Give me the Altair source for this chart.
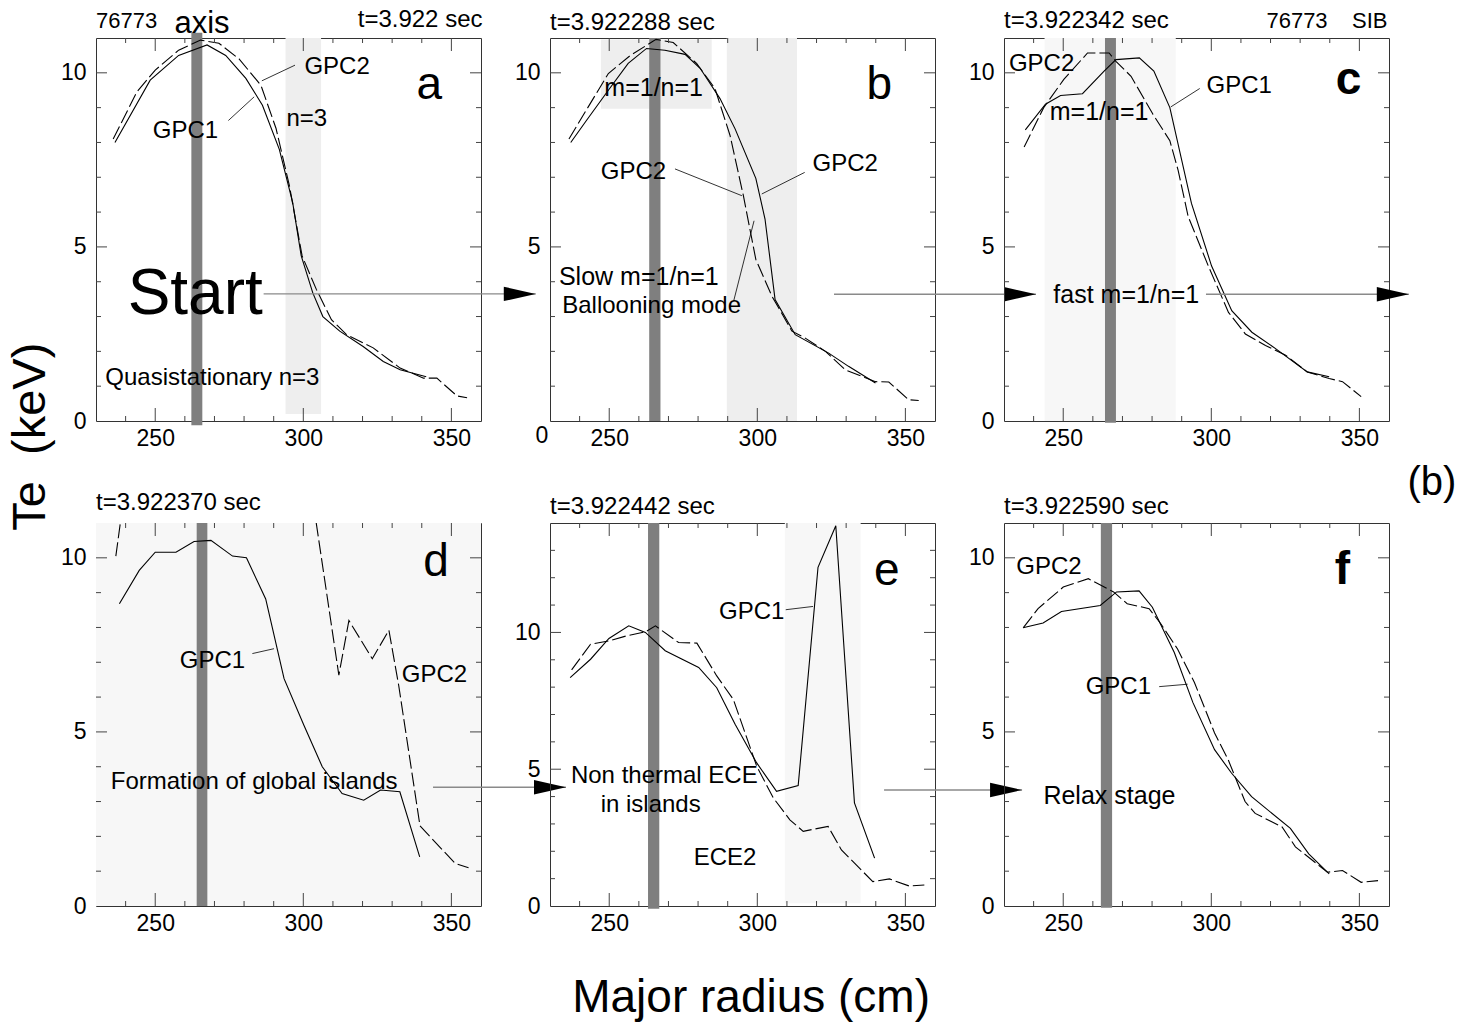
import altair as alt
import pandas as pd

FONT = "Liberation Sans"
W, H = 385, 383
XDOM = [230, 360]
X_MAJOR = [250, 300, 350]
X_MINOR = [240, 260, 270, 280, 290, 310, 320, 330, 340]

# ---------------- panel a ----------------
A_GPC1_R = [236.4, 248.3, 257.9, 267.5, 273.8, 280.6, 286.2, 291.9, 296.4, 299.3, 303.2, 306.6, 312.3, 320.2, 327.0, 332.7, 341.5]
A_GPC1_TE = [8.0, 9.79, 10.5, 10.8, 10.5, 9.84, 9.07, 7.8, 6.28, 4.74, 3.68, 3.0, 2.58, 2.14, 1.71, 1.47, 1.27]
A_GPC2_R = [235.8, 243.8, 250.0, 257.9, 265.3, 271.5, 278.3, 285.7, 290.8, 295.3, 299.6, 304.4, 309.5, 314.6, 323.6, 332.7, 340.6, 345.1, 351.9, 355.3]
A_GPC2_TE = [8.1, 9.45, 10.08, 10.65, 10.94, 10.85, 10.4, 9.64, 8.4, 6.76, 4.74, 3.78, 2.91, 2.48, 2.1, 1.52, 1.23, 1.23, 0.72, 0.67]
A_BAND_X0, A_BAND_X1, A_BAND_Y0, A_BAND_Y1 = [294.0], [306.0], [0.2], [11.0]
A_AXIS = [262.2, 265.9, -0.12, 11.15]
A_TEXT = ["76773", "axis", "t=3.922 sec", "GPC2", "GPC1", "n=3", "Start", "Quasistationary n=3", "a", "Te\u00a0\u00a0(keV)"]
A_TEXT_X = [230, 265.8, 360.5, 311.4, 260.2, 301.2, 263.5, 269.3, 342.5, 208.1]
A_TEXT_Y = [11.5, 11.15, 11.52, 10.16, 8.32, 8.68, 3.63, 1.24, 9.26, -0.45]
A_TEXT_STYLE = ["tl22", "axis", "tr", "lab", "lab", "lab", "start", "lab", "letter", "ylab"]
A_LEADERS = [(286.0, 9.77, 297.2, 10.22), (274.7, 8.63, 283.4, 9.31)]
A_ARROWS = [(286.6, 378.5, 3.65)]

# ---------------- panel b ----------------
B_GPC1_R = [237.0, 242.3, 249.7, 256.4, 262.6, 268.8, 275.6, 280.7, 287.4, 292.5, 299.5, 302.6, 306.0, 312.8, 324.1, 330.8, 339.9]
B_GPC1_TE = [8.0, 8.63, 9.5, 10.27, 10.7, 10.65, 10.53, 10.13, 9.26, 8.39, 6.97, 5.8, 3.49, 2.48, 1.95, 1.57, 1.09]
B_GPC2_R = [236.4, 241.2, 249.7, 257.0, 265.8, 271.6, 279.5, 285.7, 290.8, 295.3, 299.5, 304.9, 311.7, 316.2, 323.0, 329.7, 339.9, 344.4, 351.1, 354.5]
B_GPC2_TE = [8.1, 8.78, 9.98, 10.49, 10.96, 10.87, 10.27, 9.55, 8.2, 6.47, 4.64, 3.59, 2.58, 2.38, 2.0, 1.47, 1.13, 1.12, 0.61, 0.59]
B_BAND_X0, B_BAND_X1, B_BAND_Y0, B_BAND_Y1 = [247.2, 289.7], [284.6, 313.4], [8.97, 0.0], [10.96, 11.0]
B_AXIS = [263.5, 267.3, 0.0, 11.0]
B_TEXT = ["t=3.922288 sec", "m=1/n=1", "b", "GPC2", "GPC2", "Slow m=1/n=1", "Ballooning mode", "0"]
B_TEXT_X = [230, 265.0, 341.2, 258.2, 329.7, 260.0, 264.3, 227.3]
B_TEXT_Y = [11.44, 9.57, 9.24, 7.14, 7.37, 4.15, 3.3, -0.44]
B_TEXT_STYLE = ["tl", "lab25", "letter", "lab", "lab", "lab25", "lab", "tick"]
B_LEADERS = [(272.2, 7.24, 294.8, 6.47), (316.0, 7.14, 301.5, 6.52), (292.0, 3.44, 298.9, 5.75)]
B_ARROWS = [(325.9, 394.1, 3.64)]

# ---------------- panel c ----------------
C_GPC1_R = [237.2, 244.0, 249.1, 256.5, 263.8, 267.8, 275.7, 280.6, 286.0, 293.3, 300.1, 306.9, 313.7, 321.7, 332.4, 339.8]
C_GPC1_TE = [8.36, 9.1, 9.35, 9.4, 10.05, 10.38, 10.43, 10.05, 9.0, 6.25, 4.45, 3.17, 2.55, 2.08, 1.41, 1.27]
C_GPC2_R = [236.8, 243.4, 250.2, 258.2, 265.5, 267.8, 272.9, 280.3, 286.0, 288.8, 292.2, 299.0, 305.8, 311.5, 318.3, 325.1, 332.4, 339.8, 344.3, 350.6]
C_GPC2_TE = [7.87, 9.0, 9.81, 10.57, 10.57, 10.33, 9.9, 8.81, 8.05, 7.2, 5.87, 4.45, 3.12, 2.5, 2.17, 1.89, 1.41, 1.22, 1.13, 0.70]
C_BAND_X0, C_BAND_X1, C_BAND_Y0, C_BAND_Y1 = [243.7], [288.0], [0.0], [11.0]
C_AXIS = [264.1, 267.8, -0.05, 11.0]
C_TEXT = ["t=3.922342 sec", "76773\u00a0\u00a0\u00a0\u00a0SIB", "GPC2", "m=1/n=1", "GPC1", "c", "fast m=1/n=1", "(b)"]
C_TEXT_X = [230, 359.5, 242.7, 262.1, 309.4, 346.3, 271.3, 374.5]
C_TEXT_Y = [11.49, 11.49, 10.24, 8.87, 9.62, 9.40, 3.62, -1.79]
C_TEXT_STYLE = ["tl", "tr22", "lab", "lab25", "lab", "letterb", "lab25", "bmark"]
C_LEADERS = [(296.1, 9.55, 286.3, 9.02)]
C_ARROWS = [(298.2, 366.7, 3.64)]

# ---------------- panel d ----------------
D_GPC1_R = [237.9, 244.6, 250.0, 257.0, 263.1, 268.8, 276.1, 280.8, 287.3, 293.5, 300.2, 306.4, 313.1, 320.4, 326.1, 332.6, 339.3]
D_GPC1_TE = [8.68, 9.64, 10.16, 10.16, 10.47, 10.5, 10.05, 10.0, 8.82, 6.53, 5.19, 4.0, 3.23, 3.04, 3.33, 3.28, 1.41]
D_GPC2_R = [236.7, 243.0, 300.0, 312.0, 315.4, 323.3, 328.9, 332.2, 339.4, 351.3, 355.8]
D_GPC2_TE = [10.05, 14.0, 13.5, 6.63, 8.2, 7.1, 7.92, 6.34, 2.3, 1.22, 1.1]
D_BAND_X0, D_BAND_X1, D_BAND_Y0, D_BAND_Y1 = [230.0], [360.0], [0.0], [11.0]
D_AXIS = [264.0, 267.6, 0.0, 11.0]
D_TEXT = ["t=3.922370 sec", "d", "GPC1", "GPC2", "Formation of global islands"]
D_TEXT_X = [230, 344.8, 269.3, 344.3, 283.4]
D_TEXT_Y = [11.58, 9.47, 7.03, 6.64, 3.55]
D_TEXT_STYLE = ["tl", "letter", "lab", "lab", "lab"]
D_LEADERS = [(282.8, 7.25, 290.1, 7.39)]
D_ARROWS = [(343.8, 388.7, 3.41)]

# ---------------- panel e ----------------
E_GPC1_R = [236.8, 243.7, 249.9, 256.6, 262.2, 268.9, 280.2, 286.3, 292.5, 299.8, 306.5, 313.8, 320.5, 326.5, 332.8, 339.6]
E_GPC1_TE = [8.35, 9.02, 9.78, 10.24, 10.0, 9.33, 8.72, 7.98, 6.64, 5.23, 4.19, 4.4, 12.38, 13.9, 3.77, 1.75]
E_GPC2_R = [237.3, 243.7, 249.9, 256.0, 262.2, 265.6, 273.4, 279.6, 286.3, 291.9, 299.8, 305.4, 311.0, 315.5, 323.9, 328.4, 339.0, 344.6, 351.3, 356.4]
E_GPC2_TE = [8.63, 9.57, 9.69, 9.88, 10.02, 10.24, 9.63, 9.61, 8.41, 7.55, 5.11, 3.95, 3.15, 2.73, 2.91, 2.05, 0.89, 0.99, 0.73, 0.77]
E_BAND_X0, E_BAND_X1, E_BAND_Y0, E_BAND_Y1 = [309.3], [334.9], [0.1], [14.0]
E_AXIS = [263.1, 266.9, -0.1, 14.0]
E_TEXT = ["t=3.922442 sec", "e", "GPC1", "Non thermal ECE", "in islands", "ECE2", "Major radius (cm)"]
E_TEXT_X = [230, 343.7, 298.1, 268.6, 264.0, 289.1, 297.9]
E_TEXT_Y = [14.58, 11.74, 10.76, 4.77, 3.70, 1.74, -3.36]
E_TEXT_STYLE = ["tl", "letter", "lab", "lab", "lab", "lab", "xlab"]
E_LEADERS = [(309.6, 10.83, 318.8, 10.95)]
E_ARROWS = [(342.8, 389.4, 4.24)]

# ---------------- panel f ----------------
F_GPC1_R = [236.4, 243.2, 249.4, 262.5, 268.0, 275.6, 280.1, 287.5, 293.8, 301.1, 306.8, 313.6, 326.7, 332.9, 339.8]
F_GPC1_TE = [7.99, 8.13, 8.46, 8.63, 9.02, 9.05, 8.58, 7.28, 5.84, 4.49, 3.82, 3.14, 2.23, 1.5, 0.92]
F_GPC2_R = [236.6, 241.5, 250.0, 258.5, 267.0, 271.6, 279.0, 283.0, 288.6, 294.3, 301.1, 305.7, 311.4, 314.8, 323.9, 328.4, 339.2, 344.3, 350.6, 356.3]
F_GPC2_TE = [8.0, 8.54, 9.16, 9.4, 9.02, 8.68, 8.54, 8.1, 7.38, 6.42, 4.97, 4.2, 3.0, 2.66, 2.27, 1.7, 0.97, 1.02, 0.68, 0.73]
F_AXIS = [262.7, 266.5, -0.05, 11.0]
F_TEXT = ["t=3.922590 sec", "GPC2", "GPC1", "f", "Relax stage"]
F_TEXT_X = [230, 245.2, 268.6, 344.3, 265.6]
F_TEXT_Y = [11.46, 9.73, 6.28, 9.26, 3.17]
F_TEXT_STYLE = ["tl", "lab", "lab", "letterb", "lab25"]
F_LEADERS = [(282.4, 6.3, 292.0, 6.37)]

LIGHT = {"a": "#eeeeee", "b": "#eeeeee", "c": "#f7f7f7", "d": "#f7f7f7", "e": "#f7f7f7"}

STYLES = {
    "lab": dict(fontSize=24),
    "lab25": dict(fontSize=25),
    "start": dict(fontSize=64),
    "letter": dict(fontSize=46, baseline="alphabetic"),
    "letterb": dict(fontSize=46, baseline="alphabetic", fontWeight="bold"),
    "tl": dict(fontSize=24, align="left"),
    "tl22": dict(fontSize=22, align="left"),
    "tr": dict(fontSize=24, align="right"),
    "tr22": dict(fontSize=22, align="right"),
    "axis": dict(fontSize=31, baseline="alphabetic"),
    "ylab": dict(fontSize=47, angle=270),
    "xlab": dict(fontSize=46),
    "bmark": dict(fontSize=40),
    "tick": dict(fontSize=23),
}

ARROW_PATH = "M-2,-0.45L0,0L-2,0.45Z"


def build(ydom, yvals, g1, g2, bands, band_color, axis_band, texts, leaders, arrows):
    xs = alt.Scale(domain=XDOM, nice=False, zero=False)
    ys = alt.Scale(domain=ydom, nice=False, zero=False)
    xa = alt.Axis(values=X_MAJOR, ticks=False, domain=False, grid=False, title=None,
                  labelPadding=6, labelFontSize=23, labelFont=FONT, labelColor="black")
    ya = alt.Axis(values=yvals, ticks=False, domain=False, grid=False, title=None,
                  labelPadding=10, labelFontSize=23, labelFont=FONT, labelColor="black")

    def X(f):
        return alt.X(f, type="quantitative", scale=xs, axis=xa)

    def Y(f):
        return alt.Y(f, type="quantitative", scale=ys, axis=ya)

    layers = []
    if bands is not None:
        bdf = pd.DataFrame({"x0": bands[0], "x1": bands[1], "y0": bands[2], "y1": bands[3]})
        layers.append(alt.Chart(bdf).mark_rect(color=band_color).encode(
            x=X("x0"), x2="x1", y=Y("y0"), y2="y1"))
    adf = pd.DataFrame({"x0": [axis_band[0]], "x1": [axis_band[1]], "y0": [axis_band[2]], "y1": [axis_band[3]]})
    layers.append(alt.Chart(adf).mark_rect(color="#7f7f7f").encode(
        x=X("x0"), x2="x1", y=Y("y0"), y2="y1"))

    d1 = pd.DataFrame({"r": g1[0], "te": g1[1]})
    d2 = pd.DataFrame({"r": g2[0], "te": g2[1]})
    layers.append(alt.Chart(d1).mark_line(color="black", strokeWidth=1.1, clip=True).encode(x=X("r"), y=Y("te")))
    layers.append(alt.Chart(d2).mark_line(color="black", strokeWidth=1.1, strokeDash=[14, 4], clip=True).encode(x=X("r"), y=Y("te")))

    # inward ticks
    tc = "#444444"
    xmaj = pd.DataFrame({"v": X_MAJOR})
    xmin = pd.DataFrame({"v": X_MINOR})
    for df, ln in ((xmaj, 13), (xmin, 5)):
        layers.append(alt.Chart(df).mark_rule(color=tc).encode(x=X("v"), y=alt.value(H), y2=alt.value(H - ln)))
        layers.append(alt.Chart(df).mark_rule(color=tc).encode(x=X("v"), y=alt.value(0), y2=alt.value(ln)))
    ymaj = pd.DataFrame({"v": [v for v in range(5, int(ydom[1]), 5)]})
    ymin = pd.DataFrame({"v": [v for v in range(1, int(ydom[1])) if v % 5]})
    for df, ln in ((ymaj, 11), (ymin, 5)):
        layers.append(alt.Chart(df).mark_rule(color=tc).encode(y=Y("v"), x=alt.value(0), x2=alt.value(ln)))
        layers.append(alt.Chart(df).mark_rule(color=tc).encode(y=Y("v"), x=alt.value(W), x2=alt.value(W - ln)))

    if leaders:
        ldf = pd.DataFrame(leaders, columns=["x0", "y0", "x1", "y1"])
        layers.append(alt.Chart(ldf).mark_rule(color="black", strokeWidth=0.8).encode(
            x=X("x0"), y=Y("y0"), x2="x1", y2="y1"))

    for (x0, x1, y) in arrows:
        ar = pd.DataFrame({"x0": [x0], "x1": [x1], "y": [y]})
        layers.append(alt.Chart(ar).mark_rule(color="#8a8a8a", strokeWidth=1.3).encode(
            x=X("x0"), x2="x1", y=Y("y")))
        layers.append(alt.Chart(ar).mark_point(shape=ARROW_PATH, filled=True, size=1024,
                                               color="black", opacity=1).encode(x=X("x1"), y=Y("y")))

    for s, x, y, st in zip(*texts):
        kw = dict(font=FONT, color="black", align="center", baseline="middle")
        kw.update(STYLES[st])
        tdf = pd.DataFrame({"x": [x], "y": [y], "t": [s]})
        layers.append(alt.Chart(tdf).mark_text(**kw).encode(x=X("x"), y=Y("y"), text="t:N"))

    return alt.layer(*layers).properties(width=W, height=H)


pa = build([0, 11], [0, 5, 10], (A_GPC1_R, A_GPC1_TE), (A_GPC2_R, A_GPC2_TE),
           (A_BAND_X0, A_BAND_X1, A_BAND_Y0, A_BAND_Y1), LIGHT["a"], A_AXIS,
           (A_TEXT, A_TEXT_X, A_TEXT_Y, A_TEXT_STYLE), A_LEADERS, A_ARROWS)
pb = build([0, 11], [5, 10], (B_GPC1_R, B_GPC1_TE), (B_GPC2_R, B_GPC2_TE),
           (B_BAND_X0, B_BAND_X1, B_BAND_Y0, B_BAND_Y1), LIGHT["b"], B_AXIS,
           (B_TEXT, B_TEXT_X, B_TEXT_Y, B_TEXT_STYLE), B_LEADERS, B_ARROWS)
pc = build([0, 11], [0, 5, 10], (C_GPC1_R, C_GPC1_TE), (C_GPC2_R, C_GPC2_TE),
           (C_BAND_X0, C_BAND_X1, C_BAND_Y0, C_BAND_Y1), LIGHT["c"], C_AXIS,
           (C_TEXT, C_TEXT_X, C_TEXT_Y, C_TEXT_STYLE), C_LEADERS, C_ARROWS)
pd_ = build([0, 11], [0, 5, 10], (D_GPC1_R, D_GPC1_TE), (D_GPC2_R, D_GPC2_TE),
            (D_BAND_X0, D_BAND_X1, D_BAND_Y0, D_BAND_Y1), LIGHT["d"], D_AXIS,
            (D_TEXT, D_TEXT_X, D_TEXT_Y, D_TEXT_STYLE), D_LEADERS, D_ARROWS)
pe = build([0, 14], [0, 5, 10], (E_GPC1_R, E_GPC1_TE), (E_GPC2_R, E_GPC2_TE),
           (E_BAND_X0, E_BAND_X1, E_BAND_Y0, E_BAND_Y1), LIGHT["e"], E_AXIS,
           (E_TEXT, E_TEXT_X, E_TEXT_Y, E_TEXT_STYLE), E_LEADERS, E_ARROWS)
pf = build([0, 11], [0, 5, 10], (F_GPC1_R, F_GPC1_TE), (F_GPC2_R, F_GPC2_TE),
           None, None, F_AXIS,
           (F_TEXT, F_TEXT_X, F_TEXT_Y, F_TEXT_STYLE), F_LEADERS, [])

chart = alt.concat(pa, pb, pc, pd_, pe, pf, columns=3,
                   spacing={"row": 102, "column": 69}, bounds="flush").properties(
    padding={"left": 6, "top": 7, "right": 5, "bottom": 5},
    background="white",
).configure_view(stroke="#333333", strokeWidth=1)

chart.save("out.html", embed_options={"renderer": "svg", "actions": False})
